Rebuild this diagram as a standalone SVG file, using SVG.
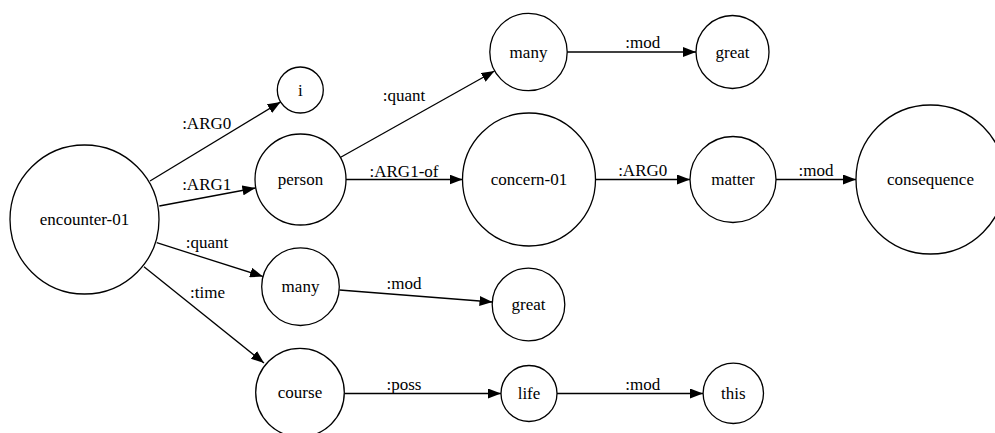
<svg xmlns="http://www.w3.org/2000/svg" width="995" height="433" viewBox="0 0 995 433">
  <defs>
    <marker id="arrow" markerWidth="13" markerHeight="10" refX="13" refY="5" orient="auto" markerUnits="userSpaceOnUse">
      <path d="M0,0 L13,5 L0,10 Z" fill="#000"/>
    </marker>
    <style>
      .node circle { fill: #fff; stroke: #000; stroke-width: 1.3; }
      .edge { stroke: #000; stroke-width: 1.3; fill: none; marker-end: url(#arrow); }
      text { font-family: "Liberation Serif", "Times New Roman", serif; font-size: 17px; fill: #000; text-anchor: middle; }
    </style>
  </defs>
  <rect width="995" height="433" fill="#fff"/>

  <!-- connectors -->
  <g id="edges">
    <line class="edge" x1="150" y1="181" x2="280.6" y2="101.9"/>
    <line class="edge" x1="159.3" y1="206" x2="255.4" y2="188"/>
    <line class="edge" x1="156.7" y1="242.7" x2="263" y2="276.5"/>
    <line class="edge" x1="144" y1="266.7" x2="264" y2="363"/>
    <line class="edge" x1="340.7" y1="157.3" x2="494.5" y2="71"/>
    <line class="edge" x1="346" y1="179.5" x2="462.5" y2="179.5"/>
    <line class="edge" x1="567" y1="52" x2="696" y2="52"/>
    <line class="edge" x1="595.5" y1="179.5" x2="690" y2="179.5"/>
    <line class="edge" x1="776" y1="179.5" x2="856" y2="179.5"/>
    <line class="edge" x1="339.5" y1="290" x2="492.5" y2="302"/>
    <line class="edge" x1="344.5" y1="393.5" x2="501" y2="393.5"/>
    <line class="edge" x1="557" y1="393.5" x2="703" y2="393.5"/>

    <text x="206.7" y="128.5">:ARG0</text>
    <text x="206.7" y="190">:ARG1</text>
    <text x="207" y="248">:quant</text>
    <text x="207.5" y="298">:time</text>
    <text x="404" y="101">:quant</text>
    <text x="404" y="176.5">:ARG1-of</text>
    <text x="642.7" y="48">:mod</text>
    <text x="642.7" y="176">:ARG0</text>
    <text x="816" y="176">:mod</text>
    <text x="404" y="289">:mod</text>
    <text x="404" y="390">:poss</text>
    <text x="642.7" y="390">:mod</text>
  </g>

  <!-- nodes -->
  <g id="encounter-01" class="node"><circle cx="84.5" cy="219.5" r="74.5"/><text x="84.5" y="225">encounter-01</text></g>
  <g id="i" class="node"><circle cx="300.3" cy="90" r="23"/><text x="300.3" y="95.5">i</text></g>
  <g id="person" class="node"><circle cx="300.5" cy="179.5" r="45.5"/><text x="300.5" y="185">person</text></g>
  <g id="many-quant" class="node"><circle cx="300.5" cy="286.7" r="38.8"/><text x="300.5" y="292">many</text></g>
  <g id="course" class="node"><circle cx="300" cy="392.6" r="44.3"/><text x="300" y="398">course</text></g>
  <g id="many-person" class="node"><circle cx="528.5" cy="52" r="38.7"/><text x="528.5" y="57.5">many</text></g>
  <g id="concern-01" class="node"><circle cx="529" cy="179.5" r="66.5"/><text x="529" y="185">concern-01</text></g>
  <g id="great-quant" class="node"><circle cx="528.5" cy="304.5" r="36.3"/><text x="528.5" y="310">great</text></g>
  <g id="life" class="node"><circle cx="529" cy="393.5" r="28"/><text x="529" y="399">life</text></g>
  <g id="great-person" class="node"><circle cx="732.5" cy="52" r="36.5"/><text x="732.5" y="57.5">great</text></g>
  <g id="matter" class="node"><circle cx="733" cy="179.5" r="43"/><text x="733" y="185">matter</text></g>
  <g id="this" class="node"><circle cx="733.3" cy="393.3" r="30.2"/><text x="733.3" y="398.8">this</text></g>
  <g id="consequence" class="node"><circle cx="930.5" cy="179.5" r="74.5"/><text x="930.5" y="185">consequence</text></g>
</svg>
